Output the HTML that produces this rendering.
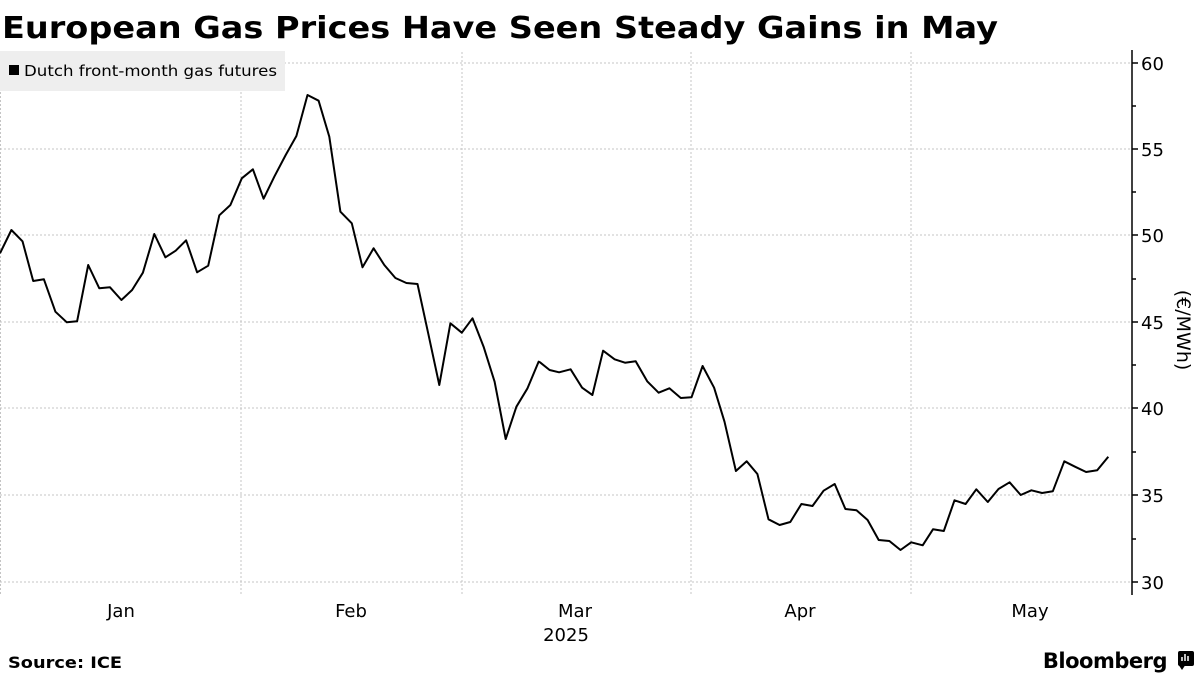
<!DOCTYPE html>
<html><head><meta charset="utf-8"><style>
html,body{margin:0;padding:0;background:#fff;}
body{width:1200px;height:675px;overflow:hidden;font-family:"DejaVu Sans",sans-serif;}
</style></head><body>
<svg width="1200" height="675" xmlns="http://www.w3.org/2000/svg" font-family="DejaVu Sans, sans-serif">
<text x="2" y="38" font-size="30" font-weight="bold" fill="#000" textLength="996" lengthAdjust="spacingAndGlyphs">European Gas Prices Have Seen Steady Gains in May</text>
<g stroke="#c4c4c4" stroke-width="1" stroke-dasharray="2,2">
<line x1="0" y1="63" x2="1130" y2="63"/>
<line x1="0" y1="149" x2="1130" y2="149"/>
<line x1="0" y1="235" x2="1130" y2="235"/>
<line x1="0" y1="322" x2="1130" y2="322"/>
<line x1="0" y1="408" x2="1130" y2="408"/>
<line x1="0" y1="495" x2="1130" y2="495"/>
<line x1="0" y1="582" x2="1130" y2="582"/>
<line x1="241" y1="52" x2="241" y2="594"/>
<line x1="462" y1="52" x2="462" y2="594"/>
<line x1="691" y1="52" x2="691" y2="594"/>
<line x1="911" y1="52" x2="911" y2="594"/>
<line x1="0.5" y1="52" x2="0.5" y2="594"/>
</g>
<rect x="0" y="51" width="285" height="40" fill="#eeeeee"/>
<rect x="9" y="65" width="10" height="10" fill="#000"/>
<text x="24" y="76" font-size="15" fill="#000" textLength="253" lengthAdjust="spacingAndGlyphs">Dutch front-month gas futures</text>
<line x1="1132" y1="50" x2="1132" y2="595" stroke="#000" stroke-width="1.5"/>
<g stroke="#000" stroke-width="1.5">
<line x1="1132" y1="63" x2="1138" y2="63"/><line x1="1132" y1="106" x2="1136" y2="106"/>
<line x1="1132" y1="149" x2="1138" y2="149"/><line x1="1132" y1="192" x2="1136" y2="192"/>
<line x1="1132" y1="235" x2="1138" y2="235"/><line x1="1132" y1="279" x2="1136" y2="279"/>
<line x1="1132" y1="322" x2="1138" y2="322"/><line x1="1132" y1="365" x2="1136" y2="365"/>
<line x1="1132" y1="408" x2="1138" y2="408"/><line x1="1132" y1="452" x2="1136" y2="452"/>
<line x1="1132" y1="495" x2="1138" y2="495"/><line x1="1132" y1="539" x2="1136" y2="539"/>
<line x1="1132" y1="582" x2="1138" y2="582"/>
</g>
<g font-size="18" fill="#000">
<text x="1141" y="70">60</text><text x="1141" y="156">55</text><text x="1141" y="242">50</text>
<text x="1141" y="329">45</text><text x="1141" y="415">40</text><text x="1141" y="502">35</text><text x="1141" y="589">30</text>
</g>
<text transform="translate(1177,330) rotate(90)" text-anchor="middle" font-size="19" fill="#000">(€/MWh)</text>
<g font-size="18" fill="#000" text-anchor="middle">
<text x="121" y="617">Jan</text><text x="351" y="617">Feb</text><text x="575" y="617">Mar</text>
<text x="800" y="617">Apr</text><text x="1030" y="617">May</text><text x="566" y="641">2025</text>
</g>
<path id="ln" fill="none" stroke="#000" stroke-width="2" stroke-linejoin="round" d=""/>
<text x="8" y="668" font-size="16" font-weight="bold" fill="#000" textLength="114" lengthAdjust="spacingAndGlyphs">Source: ICE</text>
<text x="1167" y="668" font-size="21" font-weight="bold" fill="#000" text-anchor="end" letter-spacing="-0.5">Bloomberg</text>
<rect x="1178" y="651" width="16" height="15" rx="2" fill="#000"/>
<path d="M1178 664 L1186 664 L1182 670 Z" fill="#000"/>
<g stroke="#fff" stroke-width="1.5"><line x1="1182" y1="661" x2="1182" y2="657"/><line x1="1185" y1="661" x2="1185" y2="654"/><line x1="1188" y1="661" x2="1188" y2="656"/></g>
</svg>
<script>
var a=[[0,520],[32,450],[63,484],[93,603],[123,598],[155,695],[187,727],[216,724],[247,555],[278,625],[308,622],[340,660],[370,630],[400,578],[432,462],[463,532],[492,512],[521,481],[552,577],[583,557],[614,406],[645,375],[677,295],[708,268],[738,356],[768,290],[800,225],[830,168],[861,45],[892,62],[922,170],[953,395],[985,430],[1015,562],[1046,505],[1076,555],[1107,594],[1138,609],[1169,612],[1199,760],[1230,915],[1261,730],[1293,758],[1323,715],[1354,800],[1385,905],[1416,1077],[1446,980],[1477,925],[1508,845]];
var b=[[0,127],[25,150],[50,157],[80,148],[110,203],[137,225],[165,92],[195,118],[222,128],[250,124],[280,184],[310,218],[338,205],[368,234],[396,232],[425,138],[455,203],[482,305],[512,453],[540,424],[568,462],[597,598],[626,615],[654,606],[683,552],[712,558],[741,512],[770,492],[798,567],[827,571],[856,600],[885,660],[913,663],[942,690],[970,667],[1000,676],[1027,628],[1055,633],[1083,541],[1112,552],[1140,508],[1170,546],[1198,507],[1227,487],[1256,525],[1284,511],[1312,519],[1340,514],[1370,424],[1398,440],[1427,456],[1456,451],[1485,410]];
var p=[];
a.forEach(function(q){p.push([q[0]/2.8,80+q[1]/3]);});
b.forEach(function(q){p.push([540+q[0]/2.613,320+q[1]/3]);});
document.getElementById('ln').setAttribute('d','M'+p.map(function(q){return q[0].toFixed(1)+','+q[1].toFixed(1);}).join(' L'));
</script>
</body></html>
